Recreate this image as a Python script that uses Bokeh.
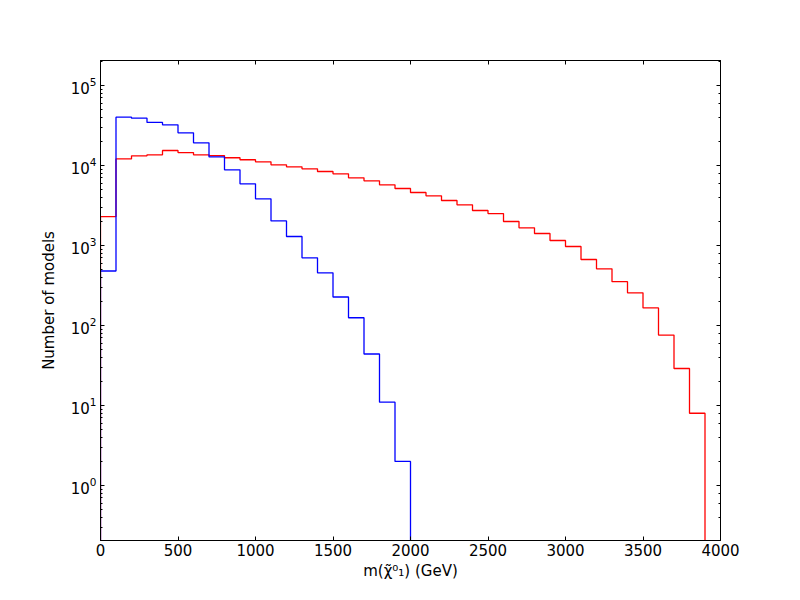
import numpy as np
from bokeh.plotting import figure
from bokeh.models import LogAxis, LinearAxis, CustomJSTickFormatter, Range1d, FixedTicker
from bokeh.embed import file_html
from bokeh.resources import INLINE

bin_width = 100
blue_counts = [480, 40200, 39000, 34500, 32200, 25600, 19200, 12800, 8830, 5900,
               3830, 2030, 1296, 702, 455, 227, 125, 44, 11, 2]
red_counts = [2300, 12100, 13200, 13600, 15400, 14500, 13600, 13300, 12500, 11800,
              11100, 10200, 9620, 9080, 8410, 7870, 7020, 6430, 5730, 5160,
              4600, 4180, 3650, 3220, 2740, 2510, 1995, 1665, 1413, 1155,
              972, 668, 511, 353, 256, 166, 76, 29, 8]
x_ticks = [0, 500, 1000, 1500, 2000, 2500, 3000, 3500, 4000]

FLOOR = 1e-3


def step_path(counts):
    edges = np.arange(len(counts) + 1) * bin_width
    xs = [edges[0]]
    ys = [FLOOR]
    for i, c in enumerate(counts):
        xs += [edges[i], edges[i + 1]]
        ys += [c, c]
    xs.append(edges[-1])
    ys.append(FLOOR)
    return xs, ys


FONT = "DejaVu Sans"

p = figure(width=784, height=584, output_backend="svg", toolbar_location=None,
           y_axis_type="log", x_range=Range1d(0, 4000),
           y_range=Range1d(10 ** -0.6875, 10 ** 5.3125),
           min_border_left=100, min_border_right=64, min_border_top=60, min_border_bottom=44)
p.grid.visible = False
p.outline_line_color = "black"
p.outline_line_width = 1
p.background_fill_color = "white"
p.border_fill_color = "white"

bx, by = step_path(blue_counts)
rx, ry = step_path(red_counts)
p.line(rx, ry, line_color="#ff0000", line_width=1.3)
p.line(bx, by, line_color="#0000ff", line_width=1.3)

xa = p.xaxis[0]
xa.ticker = FixedTicker(ticks=x_ticks)
xa.axis_label = "m(χ̃⁰₁) (GeV)"
ya = p.yaxis[0]
ya.axis_label = "Number of models"

for ax in (xa, ya):
    ax.major_tick_in = 4
    ax.major_tick_out = 0
    ax.minor_tick_in = 2
    ax.minor_tick_out = 0
    ax.axis_line_color = "black"
    ax.major_label_text_font = FONT
    ax.major_label_text_font_size = "15px"
    ax.major_label_text_color = "black"
    ax.axis_label_text_font = FONT
    ax.axis_label_text_font_size = "15px"
    ax.axis_label_text_font_style = "normal"
    ax.axis_label_text_color = "black"

xa.major_label_standoff = 3
xa.axis_label_standoff = 3
xa.minor_tick_in = 0
ya.major_label_standoff = 4
ya.axis_label_standoff = 10

empty = CustomJSTickFormatter(code="return ''")
top = LinearAxis(ticker=FixedTicker(ticks=x_ticks), formatter=empty,
                 major_tick_in=4, major_tick_out=0, minor_tick_in=0, minor_tick_out=0,
                 major_label_standoff=0)
right = LogAxis(formatter=empty, major_tick_in=4, major_tick_out=0,
                minor_tick_in=2, minor_tick_out=0, major_label_standoff=0)
p.add_layout(top, "above")
p.add_layout(right, "right")

open("out.html", "w").write(file_html(p, INLINE))
